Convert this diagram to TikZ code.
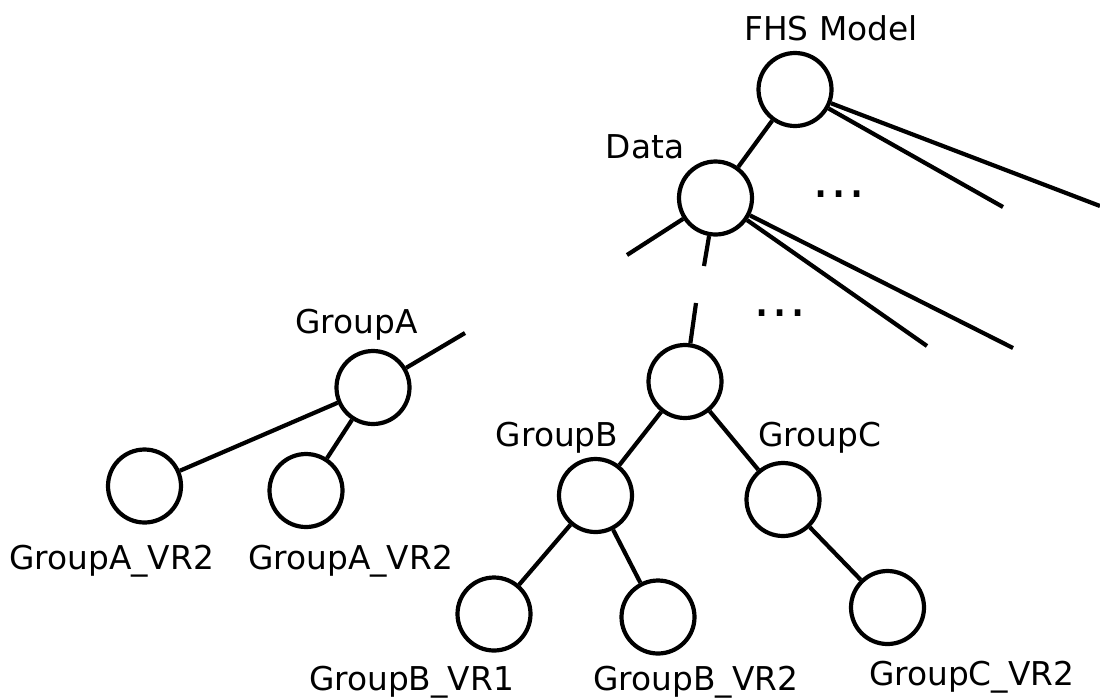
\documentclass[tikz,border=0pt]{standalone}
\usepackage{fontspec}
\setmainfont{DejaVu Sans}
\begin{document}
\begin{tikzpicture}[x=1pt,y=-1pt,
  vr/.style={circle,draw,line width=4.2pt,minimum size=73pt,inner sep=0pt},
  lbl/.style={anchor=base,inner sep=0pt,font=\fontsize{32.8}{38}\selectfont},
  ellip/.style={inner sep=0pt,font=\fontsize{54}{60}\selectfont},
  edge/.style={line width=4.2pt}]
\useasboundingbox (0,0) rectangle (1100,697);

% tree nodes
\node[vr] (fhs)  at (795,89.5)  {};
\node[vr] (data) at (715.5,198) {};
\node[vr] (root) at (685,381.5) {};
\node[vr] (gb)   at (595.5,495.5) {};
\node[vr] (gc)   at (783,499.5) {};
\node[vr] (gb1)  at (494,614) {};
\node[vr] (gb2)  at (658,617) {};
\node[vr] (gc2)  at (887.5,607.5) {};
\node[vr] (ga)   at (373,387.5) {};
\node[vr] (ga1)  at (144.5,486) {};
\node[vr] (ga2)  at (306,490.5) {};

% free ends of the elided branches
\coordinate (fr1) at (1100,206);
\coordinate (fr2) at (1003,207);
\coordinate (dl)  at (627,255);
\coordinate (dd)  at (704,266);
\coordinate (dr1) at (927,346);
\coordinate (dr2) at (1013,348);
\coordinate (rt)  at (696,303);
\coordinate (gae) at (465,333);

% edges
\draw[edge] (fhs) -- (data);
\draw[edge] (fhs) -- (fr1);
\draw[edge] (fhs) -- (fr2);
\draw[edge] (data) -- (dl);
\draw[edge] (data) -- (dd);
\draw[edge] (data) -- (dr1);
\draw[edge] (data) -- (dr2);
\draw[edge] (rt) -- (root);
\draw[edge] (root) -- (gb);
\draw[edge] (root) -- (gc);
\draw[edge] (gb) -- (gb1);
\draw[edge] (gb) -- (gb2);
\draw[edge] (gc) -- (gc2);
\draw[edge] (ga) -- (gae);
\draw[edge] (ga) -- (ga1);
\draw[edge] (ga) -- (ga2);

% ellipses
\node[ellip] (e1) at (839,194.5) {.\kern0.5pt.\kern0.5pt.};
\node[ellip] (e2) at (780,313) {.\kern0.5pt.\kern0.5pt.};

% labels
\node[lbl] (lfhs)  at (831,40)    {FHS Model};
\node[lbl] (ldata) at (645,158)   {Data};
\node[lbl] (lga)   at (356.5,333) {GroupA};
\node[lbl] (lga1)  at (111.5,569) {GroupA\_VR2};
\node[lbl] (lga2)  at (350.5,569) {GroupA\_VR2};
\node[lbl] (lgb)   at (557,446.7) {GroupB};
\node[lbl] (lgc)   at (819.5,446.7) {GroupC};
\node[lbl] (lgb1)  at (411.5,690) {GroupB\_VR1};
\node[lbl] (lgb2)  at (696,690)   {GroupB\_VR2};
\node[lbl] (lgc2)  at (971.7,685) {GroupC\_VR2};
\end{tikzpicture}
\end{document}
